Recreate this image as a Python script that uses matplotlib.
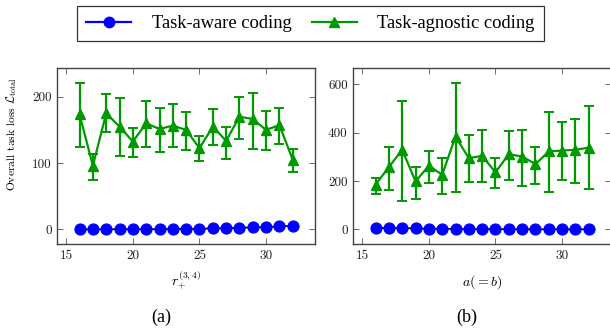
import matplotlib
matplotlib.use("Agg")
import matplotlib.pyplot as plt
from matplotlib.lines import Line2D
import numpy as np

plt.rcParams['mathtext.fontset'] = 'cm'
plt.rcParams['axes.unicode_minus'] = False

# ---- data ----
x_vals = list(range(16, 33))

# (a) vs r_+^(3,4)
a_aware = [0, 0, 0.2, 0.3, 0.3, 0.4, 0.5, 0.6, 0.8, 1.0, 1.5, 2.0, 2.5, 3.0, 3.5, 4.5, 5.5]
a_agn = [173.5, 96, 175, 155, 132.5, 160, 151.5, 156.5, 150, 122.5, 155, 133.5, 170, 166.5, 150, 157.5, 105]
a_agn_hi = [221, 113.5, 203.5, 198.5, 152.5, 193.5, 182.5, 188.5, 176.5, 141, 181, 155, 200, 206.5, 178.5, 183.5, 121]
a_agn_lo = [125, 75, 146.5, 110, 108.5, 124, 117.5, 125, 120, 102.5, 127.5, 106.5, 136.5, 121.5, 120, 129, 86]

# (b) vs a(=b)
b_aware = [6, 6, 5, 4, 3, 2.5, 2, 1.5, 1, 0.8, 0.6, 0.5, 0.4, 0.3, 0.2, 0.1, 0]
b_agn = [185, 257.5, 329, 198.6, 263, 226, 383.6, 294.5, 304, 235.6, 311, 301, 270, 322, 326, 329, 338]
b_agn_hi = [212, 340, 531.5, 256, 326, 294.5, 605.5, 389, 411, 297, 408, 411, 342.5, 483.6, 442.5, 456, 509.6]
b_agn_lo = [148, 164, 119, 127, 192, 146.6, 153.4, 194.5, 196, 171, 205.5, 178, 189, 153.4, 203, 192, 167]

xticks = [15, 20, 25, 30]
a_yticks = [0, 100, 200]
b_yticks = [0, 200, 400, 600]

legend_labels = ["Task-aware coding", "Task-agnostic coding"]

BLUE = '#0000ff'
GREEN = '#009900'
TICKFONT = 'cmr10'

fig = plt.figure(figsize=(6.1, 3.3), dpi=100)
W, H = 610.0, 330.0

def make_ax(left_px, right_px):
    top_px, bot_px = 68.3, 244.0
    return fig.add_axes([left_px / W, 1 - bot_px / H, (right_px - left_px) / W, (bot_px - top_px) / H])

axA = make_ax(57.3, 315.0)
axB = make_ax(353.3, 611.0)

def draw(ax, aware, agn, hi, lo, yticks, ylim):
    x = np.array(x_vals)
    agn = np.array(agn); hi = np.array(hi); lo = np.array(lo)
    yerr = np.vstack([agn - lo, hi - agn])
    ax.errorbar(x, agn, yerr=yerr, color=GREEN, lw=1.6, marker='^', ms=7.8,
                capsize=3.7, capthick=1.4, elinewidth=1.6, zorder=3)
    ax.plot(x, aware, color='black', lw=1.2, zorder=4)
    ax.plot(x, aware, color=BLUE, lw=0, marker='o', ms=7.8, zorder=5)
    ax.set_xlim(14.33, 33.67)
    ax.set_ylim(*ylim)
    ax.set_xticks(xticks)
    ax.set_yticks(yticks)
    ax.tick_params(direction='in', length=4, width=0.6, color='#555555',
                   top=True, right=True, labelsize=9.5, pad=4)
    for lab in ax.get_xticklabels() + ax.get_yticklabels():
        lab.set_fontfamily(TICKFONT)
        lab.set_color('#222222')
    for s in ax.spines.values():
        s.set_linewidth(1.0)
        s.set_color('#444444')

draw(axA, a_aware, a_agn, a_agn_hi, a_agn_lo, a_yticks, (-22, 243))
draw(axB, b_aware, b_agn, b_agn_hi, b_agn_lo, b_yticks, (-60.5, 666))

fig.text(12 / W, 1 - 134 / H, r"Overall task loss $\mathcal{L}_{\mathrm{total}}$",
         fontfamily=TICKFONT, fontsize=8.3, rotation=90, ha='center', va='center')

fig.text(186 / W, 1 - 281 / H, r"$r_{+}^{(3,4)}$", ha='center', va='center', fontsize=10)
fig.text(482 / W, 1 - 282 / H, r"$a(=b)$", ha='center', va='center', fontsize=10)

fig.text(161 / W, 1 - 317 / H, "(a)", ha='center', va='center', fontsize=13,
         fontfamily='Liberation Serif')
fig.text(467 / W, 1 - 317 / H, "(b)", ha='center', va='center', fontsize=13,
         fontfamily='Liberation Serif')

handles = [Line2D([], [], color=BLUE, lw=1.6, marker='o', ms=7.5),
           Line2D([], [], color=GREEN, lw=1.6, marker='^', ms=7.5)]
leg = fig.legend(handles, legend_labels, loc='center', bbox_to_anchor=(310.5 / W, 1 - 23.5 / H),
                 ncol=2, frameon=True, fancybox=False, handlelength=2.45, handletextpad=1.1,
                 columnspacing=1.1, borderpad=0.5, borderaxespad=0,
                 prop={'family': 'Liberation Serif', 'size': 13.3})
leg.get_frame().set_edgecolor('black')
leg.get_frame().set_linewidth(0.9)

fig.savefig('out.png', dpi=100)
